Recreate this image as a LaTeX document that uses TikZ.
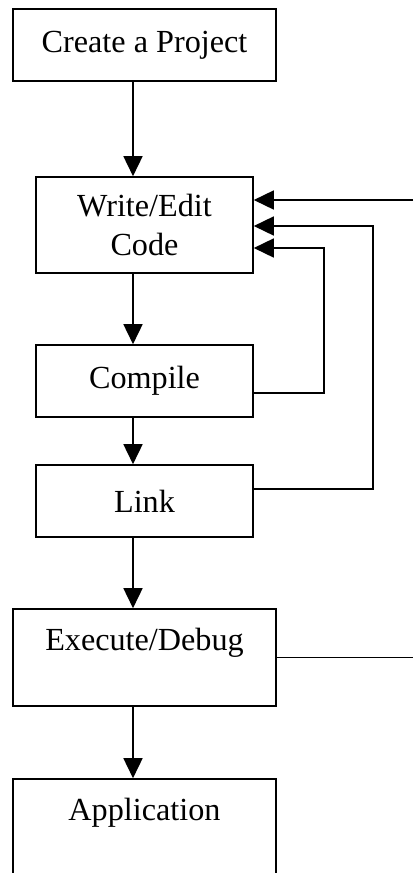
\documentclass[tikz,border=0pt]{standalone}
\usepackage{fontspec}
\setmainfont{Liberation Serif}
\usetikzlibrary{arrows.meta,calc}
\begin{document}
\begin{tikzpicture}[x=1pt,y=-1pt,
  every node/.style={font=\fontsize{32.2}{39}\selectfont},
  stagebox/.style={draw,line width=1.6pt,rectangle,inner sep=0pt,align=center},
  widebox/.style={stagebox,minimum width=263pt},
  narrowbox/.style={stagebox,minimum width=217pt},
  flow/.style={line width=1.6pt,-{Triangle[length=20pt,width=19pt]}},
  wire/.style={line width=1.3pt}]
\clip (0,0) rectangle (413,873);
\fill[white] (0,0) rectangle (413,873);
% stages of the build cycle
\node[widebox,minimum height=72pt] (create) at (144.5,45) {Create a Project};
\node[narrowbox,minimum height=96pt] (write) at (144.5,225) {Write/Edit\\Code};
\node[narrowbox,minimum height=72pt] (compile) at (144.5,381) {Compile};
\node[narrowbox,minimum height=72pt] (link) at (144.5,501) {Link};
\node[widebox,minimum height=97pt] (exec) at (144.5,657.5) {Execute/Debug\\[-14pt]\strut};
\node[widebox,minimum height=97pt] (app) at (144.5,827.5) {Application\\[-14pt]\strut};
% main flow, down the left
\coordinate (ax) at (133,0);
\draw[flow] (create.south -| ax) -- (write.north -| ax);
\draw[flow] (write.south -| ax) -- (compile.north -| ax);
\draw[flow] (compile.south -| ax) -- (link.north -| ax);
\draw[flow] (link.south -| ax) -- (exec.north -| ax);
\draw[flow] (exec.south -| ax) -- (app.north -| ax);
% feedback loops back to editing
\coordinate (edgeA) at (413,200);
\coordinate (edgeB) at (413,657.5);
\draw[flow] (edgeA) -- (write.east |- edgeA);
\draw[flow] ([yshift=12pt]link.east) -| (373,226) -- ([yshift=-1pt]write.east);
\draw[flow] ([yshift=-12pt]compile.east) -| (324,248) -- ([yshift=-23pt]write.east);
\draw[wire] (exec.east) -- (edgeB);
\end{tikzpicture}
\end{document}
